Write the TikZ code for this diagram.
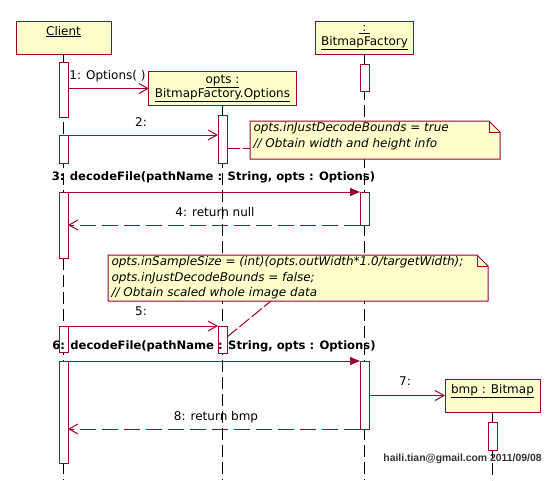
\documentclass[tikz,border=0pt]{standalone}
\usepackage{fontspec}
\setmainfont{DejaVu Sans}
\newfontfamily\stampfont{Liberation Sans}
\usetikzlibrary{arrows.meta,positioning}
\definecolor{rose}{RGB}{153,0,51}
\definecolor{paper}{RGB}{255,255,204}
\newcommand*{\actbox}[4]{\node[act,minimum height={(#4-#3)*1pt}] (#1) at (#2,{(#3+#4)/2}) {};}
\newcommand*{\foldnote}[1]{%
	\draw[rose,fill=paper] (#1.north west) -- ([xshift=-11pt]#1.north east) -- ([yshift=-11pt]#1.north east)
		-- (#1.south east) -- (#1.south west) -- cycle;
	\draw[rose] ([xshift=-11pt]#1.north east) -- ([xshift=-11pt,yshift=-11pt]#1.north east) -- ([yshift=-11pt]#1.north east);}

\begin{document}
\begin{tikzpicture}[x=1pt,y=-1pt,line width=1pt,
	every node/.style={font=\fontsize{12}{14}\selectfont},
	obj/.style={draw=rose,fill=paper,minimum width=95pt,minimum height=33pt,inner xsep=6pt,outer sep=0pt,align=center},
	act/.style={draw=rose,fill=white,minimum width=9pt,inner sep=0pt,outer sep=0pt},
	life/.style={black,dash pattern=on 12pt off 5pt},
	call/.style={rose,-{Straight Barb[length=9pt,width=10pt]}},
	sync/.style={rose,-{Triangle[length=10pt,width=8pt]}},
	back/.style={rose,dash pattern=on 16pt off 6pt,-{Straight Barb[length=9pt,width=10pt]}},
	link/.style={rose,dash pattern=on 13pt off 3pt},
	note/.style={inner sep=0pt,outer sep=0pt,anchor=north west},
	memo/.style={anchor=north west,align=left,inner sep=0pt,font=\fontsize{12}{15.5}\selectfont\itshape},
	bold/.style={font=\fontsize{11.6}{14}\selectfont\bfseries}]
	\useasboundingbox[fill=white] (0,0) rectangle (560,480);
	\coordinate (bot) at (0,480);

	\node[obj] (client)  at (63.5,37.5)  {\underline{Client}\\\mbox{}};
	\node[obj] (factory) at (364.5,37.5) {\underline{\ :\ }\\\underline{BitmapFactory}};
	\node[obj] (opts)    at (222.5,88.5) {\underline{opts :}\\\underline{BitmapFactory.Options}};
	\node[obj] (bmp)     at (492.5,395.5) {\underline{bmp : Bitmap}\\\mbox{}};

	\draw[life] (client.south)  -- (client.south |- bot);
	\draw[life] (factory.south) -- (factory.south |- bot);
	\draw[life] (opts.south)    -- (opts.south |- bot);
	\draw[life] (bmp.south)     -- (bmp.south |- bot);

	\actbox{c1}{63.5}{62}{117}
	\actbox{c2}{63.5}{135}{163}
	\actbox{c3}{63.5}{192}{258}
	\actbox{c4}{63.5}{326}{352}
	\actbox{c5}{63.5}{361}{463}
	\actbox{oa}{222.5}{115}{163}
	\actbox{ob}{222.5}{326}{353}
	\actbox{b1}{364.5}{64}{91}
	\actbox{b2}{364.5}{192}{225}
	\actbox{b3}{364.5}{361}{429}
	\actbox{m1}{492.5}{422}{450}

	\node[note,minimum width=250pt,minimum height=38pt] (n1) at (250,121) {};
	\foldnote{n1}
	\node[memo] (t1) at (253,122) {opts.inJustDecodeBounds = true\\// Obtain width and height info};
	\node[note,minimum width=380pt,minimum height=46pt] (n2) at (108,255) {};
	\foldnote{n2}
	\node[memo] (t2) at (111,256) {opts.inSampleSize = (int)(opts.outWidth*1.0/targetWidth);\\
		opts.inJustDecodeBounds = false;\\// Obtain scaled whole image data};
	\draw[link] ([yshift=-9pt]oa.east) -- ([yshift=-9pt]oa.east -| n1.west);
	\draw[link] ([yshift=-11pt]ob.north east) -- ([xshift=-27pt]n2.south);

	\draw[call] (c1.east |- opts.west) -- (opts.west);
	\draw[call] (c2.north east) -- (oa.west |- c2.north east);
	\draw[sync] (c3.north east) -- (b2.north west);
	\draw[back] (b2.south west) -- (c3.east |- b2.south west);
	\draw[call] (c4.north east) -- (ob.north west);
	\draw[sync] (c5.north east) -- (b3.north west);
	\draw[call] (b3.east |- bmp.west) -- (bmp.west);
	\draw[back] (b3.south west) -- (c5.east |- b3.south west);

	\node (l1) at (107.5,76) {1: Options( )};
	\node (l2) at (141,122) {2:};
	\node[bold] (l3) at (213.5,177) {3: decodeFile(pathName : String, opts : Options)};
	\node (l4) at (215,212) {4: return null};
	\node (l5) at (141,311) {5:};
	\node[bold] (l6) at (214,346) {6: decodeFile(pathName : String, opts : Options)};
	\node (l7) at (405,381) {7:};
	\node (l8) at (216,417) {8: return bmp};
	\node[font=\stampfont\fontsize{10.4}{12}\selectfont\bfseries,text=black!80] (stamp) at (462.5,459) {haili.tian@gmail.com 2011/09/08};
\end{tikzpicture}
\end{document}
